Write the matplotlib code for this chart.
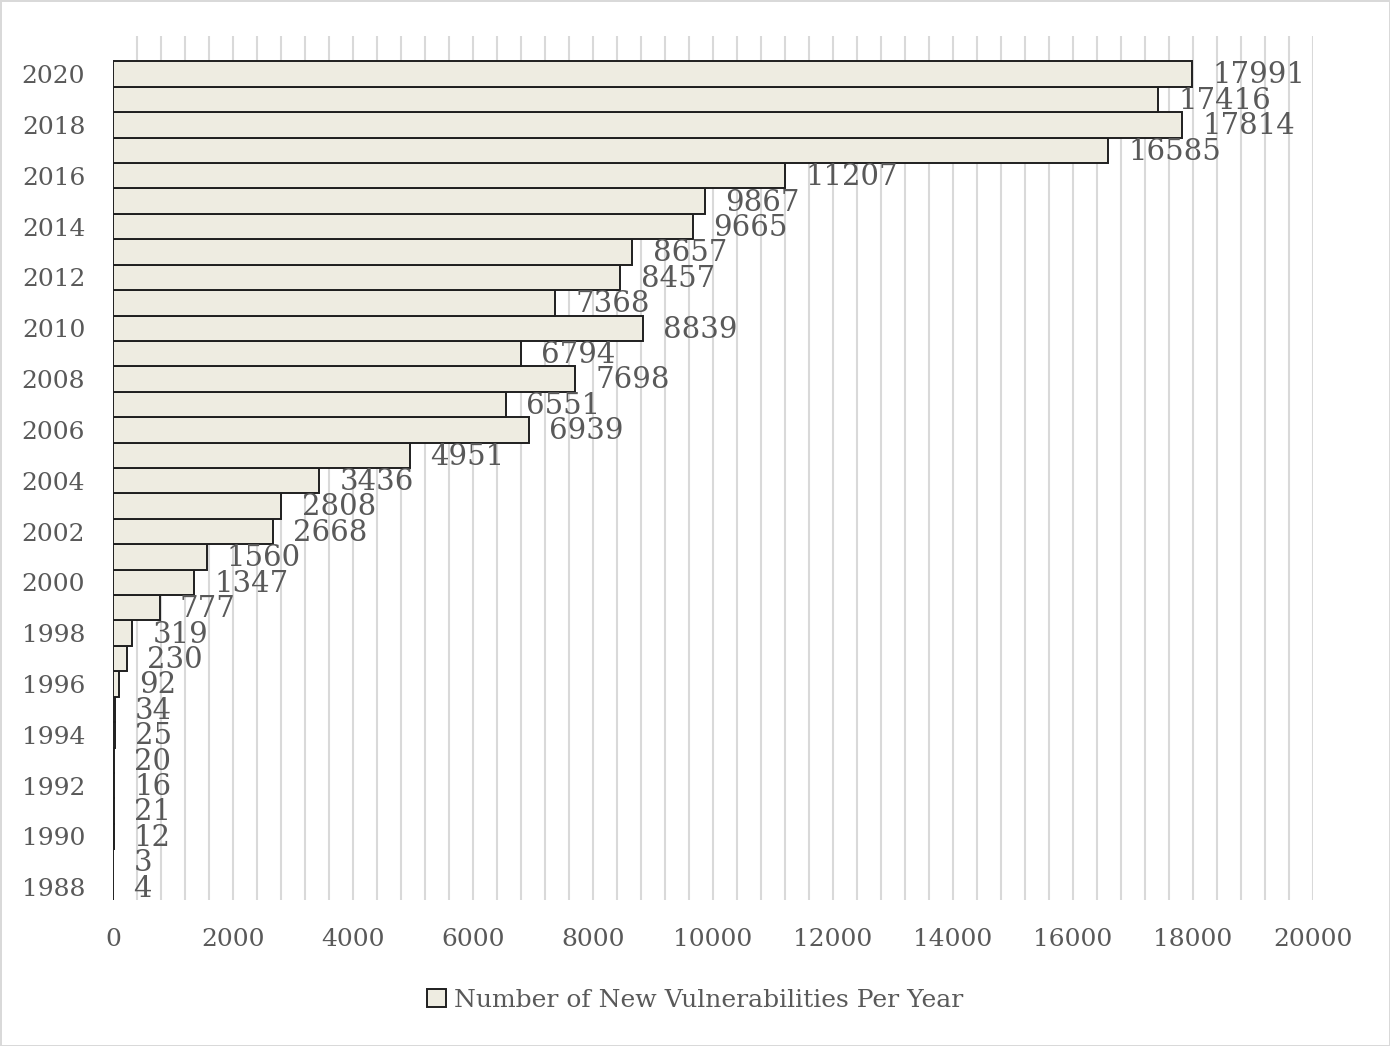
import matplotlib.pyplot as plt
import numpy as np

# Data
years = list(range(1988, 2021))
counts = [4, 3, 12, 21, 16, 20, 25, 34, 92, 230, 319, 777, 1347, 1560, 2668,
          2808, 3436, 4951, 6939, 6551, 7698, 6794, 8839, 7368, 8457, 8657,
          9665, 9867, 11207, 16585, 17814, 17416, 17991]
year_ticks = list(range(1988, 2021, 2))
x_ticks = list(range(0, 20001, 2000))
legend_label = 'Number of New Vulnerabilities Per Year'

plt.rcParams['font.family'] = ['DejaVu Serif']
txt_color = '#595959'

fig = plt.figure(figsize=(13.9, 10.46), dpi=100)
fig.patch.set_edgecolor('#d9d9d9')
fig.patch.set_linewidth(2)
ax = fig.add_axes([0.0813, 0.1396, 0.8633, 0.826])

bars = ax.barh(years, counts, height=1.0, color='#eeece1', edgecolor='#1f1f1f',
               linewidth=1.4, label=legend_label, zorder=3)

for y, v in zip(years, counts):
    ax.annotate(str(v), xy=(v, y), xytext=(14.5, -1), textcoords='offset points',
                ha='left', va='center', fontsize=21, color=txt_color, zorder=4)

ax.set_xlim(0, 20000)
ax.set_ylim(1987.5, 2021.5)
ax.set_yticks(year_ticks)
ax.set_xticks(x_ticks)
ax.set_xticks(np.arange(400, 20001, 400), minor=True)
ax.xaxis.remove_overlapping_locs = False
ax.grid(which='minor', axis='x', color='#d9d9d9', linewidth=1.5, zorder=0)
ax.grid(which='major', visible=False)
ax.tick_params(axis='both', which='both', length=0, labelsize=18, colors=txt_color)
ax.tick_params(axis='x', pad=20)
ax.tick_params(axis='y', pad=20)
for s in ax.spines.values():
    s.set_visible(False)

fig.legend(loc='lower center', bbox_to_anchor=(0.5, 0.011), frameon=False,
           fontsize=18, handlelength=0.75, handleheight=0.75, handletextpad=0.3,
           labelcolor=txt_color)

fig.savefig('out.png', dpi=100)
